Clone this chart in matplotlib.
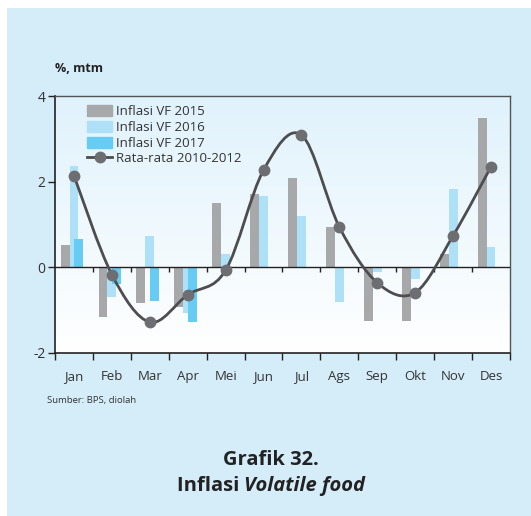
import numpy as np
import matplotlib
matplotlib.use("Agg")
import matplotlib.pyplot as plt
from matplotlib.path import Path
from matplotlib.patches import PathPatch, Rectangle
from matplotlib.lines import Line2D
from matplotlib.colors import LinearSegmentedColormap

months = ["Jan", "Feb", "Mar", "Apr", "Mei", "Jun", "Jul", "Ags", "Sep", "Okt", "Nov", "Des"]
vf2015 = [0.51, -1.15, -0.83, -0.92, 1.50, 1.71, 2.09, 0.93, -1.25, -1.25, 0.32, 3.48]
vf2016 = [2.37, -0.69, 0.72, -1.06, 0.30, 1.67, 1.19, -0.81, -0.11, -0.27, 1.84, 0.47]
vf2017 = [0.65, -0.39, -0.79, -1.27]
avg_2010_2012 = [2.14, -0.17, -1.28, -0.64, -0.07, 2.27, 3.09, 0.94, -0.36, -0.59, 0.74, 2.35]

yticks = [-2, 0, 2, 4]

C_GRAY = "#a7a8aa"
C_LB = "#aee0f8"
C_BL = "#66ccf3"
C_LINE = "#4d4d4f"
C_MARK = "#6d6e71"
C_BG = "#d5ecf9"

plt.rcParams["font.family"] = ["Open Sans", "DejaVu Sans"]

fig = plt.figure(figsize=(5.31, 5.16), dpi=100)
fig.patch.set_facecolor(C_BG)
# white margins at top and left
fig.patches.append(Rectangle((0, 1 - 8 / 516), 1, 8 / 516 + 0.01, transform=fig.transFigure,
                             facecolor="white", edgecolor="none", zorder=-10))
fig.patches.append(Rectangle((0, 0), 7 / 531, 1, transform=fig.transFigure,
                             facecolor="white", edgecolor="none", zorder=-10))

ax = fig.add_axes([55 / 531, (516 - 353) / 516, (510 - 55) / 531, (353 - 96) / 516])
ax.set_facecolor("none")

# gradient plot area
grad = np.linspace(0, 1, 256).reshape(-1, 1)
cmap = LinearSegmentedColormap.from_list("g", ["#ffffff", "#e0f2fc"])
ax.imshow(grad, extent=[0, 1, 0, 1], transform=ax.transAxes, cmap=cmap,
          aspect="auto", origin="lower", zorder=0)

x = np.arange(len(months))
w = 0.235
ax.bar(x - w, vf2015, w, color=C_GRAY, zorder=2)
ax.bar(x, vf2016, w, color=C_LB, zorder=2)
ax.bar(np.arange(len(vf2017)), vf2017, w, color=C_BL, zorder=2, align="edge")

# smooth line (spreadsheet-style bezier smoothing)
pts = np.column_stack([x, avg_2010_2012]).astype(float)
verts = [pts[0]]
codes = [Path.MOVETO]
n = len(pts)
for i in range(n - 1):
    p0 = pts[i - 1] if i > 0 else pts[i]
    p1 = pts[i]
    p2 = pts[i + 1]
    p3 = pts[i + 2] if i + 2 < n else pts[i + 1]
    c1 = p1 + (p2 - p0) / 6
    c2 = p2 - (p3 - p1) / 6
    verts += [c1, c2, p2]
    codes += [Path.CURVE4] * 3
ax.add_patch(PathPatch(Path(verts, codes), facecolor="none", edgecolor=C_LINE, lw=2.0, zorder=3))
ax.plot(x, avg_2010_2012, ls="none", marker="o", ms=7.5, color=C_MARK, mec=C_MARK, zorder=4)

ax.set_xlim(-0.5, len(months) - 0.5)
ax.set_ylim(-2, 4)
ax.set_yticks(yticks)
ax.set_yticklabels([str(v) for v in yticks], fontsize=10, color="#333333")
ax.set_xticks(np.arange(len(months) + 1) - 0.5)
ax.set_xticklabels([])
ax.set_xticks(x, minor=True)
ax.set_xticklabels(months, minor=True, fontsize=9.5, color="#333333")
ax.tick_params(axis="x", which="minor", length=0, pad=12)
ax.tick_params(axis="x", which="major", length=5, width=1, direction="out", color="#222222")
ax.tick_params(axis="y", length=5, width=1, direction="out", color="#222222", pad=2)

ax.axhline(0, color="#222222", lw=1, zorder=2.5)
ax.vlines(np.arange(1, len(months)) - 0.5, -0.12, 0, color="#222222", lw=1, zorder=2.5)

for s in ["left", "bottom"]:
    ax.spines[s].set_color("#222222")
    ax.spines[s].set_linewidth(1.2)
for s in ["top", "right"]:
    ax.spines[s].set_color("#555555")
    ax.spines[s].set_linewidth(1.0)

h1 = Rectangle((0, 0), 1, 1, color=C_GRAY)
h2 = Rectangle((0, 0), 1, 1, color=C_LB)
h3 = Rectangle((0, 0), 1, 1, color=C_BL)
h4 = Line2D([], [], color=C_LINE, lw=2, marker="o", ms=7.5, mfc=C_MARK, mec=C_MARK)
leg = ax.legend([h1, h2, h3, h4], ["Inflasi VF 2015", "Inflasi VF 2016", "Inflasi VF 2017",
                                    "Rata-rata 2010-2012"],
                loc="upper left", bbox_to_anchor=(0.05, 1.0), frameon=False, fontsize=9.5,
                handlelength=1.9, handleheight=0.9, handletextpad=0.3, labelspacing=0.2,
                borderaxespad=0.3)
for t in leg.get_texts():
    t.set_color("#333333")

fig.text(55 / 531, 1 - 68 / 516, "%, mtm", fontsize=9, fontweight="bold", color="#222222",
         ha="left", va="center")
fig.text(47 / 531, 1 - 401 / 516, "Sumber: BPS, diolah", fontsize=6.8, color="#333333",
         ha="left", va="center")

fig.text(271 / 531, 1 - 460 / 516, "Grafik 32.", fontsize=14.5, fontweight="bold",
         color="#222222", ha="center", va="center")

renderer = fig.canvas.get_renderer()
ta = fig.text(0, 1 - 486 / 516, "Inflasi ", fontsize=14.5, fontweight="bold", color="#222222",
              ha="left", va="center")
tb = fig.text(0, 1 - 486 / 516, "Volatile food", fontsize=14.5, fontweight="bold",
              style="italic", color="#222222", ha="left", va="center")
wa = ta.get_window_extent(renderer).width
wb = tb.get_window_extent(renderer).width
W = fig.get_figwidth() * fig.dpi
x0 = 271 - (wa + wb) / 2
ta.set_x(x0 / W)
tb.set_x((x0 + wa) / W)

fig.savefig("out.png", dpi=100, facecolor=fig.get_facecolor())
